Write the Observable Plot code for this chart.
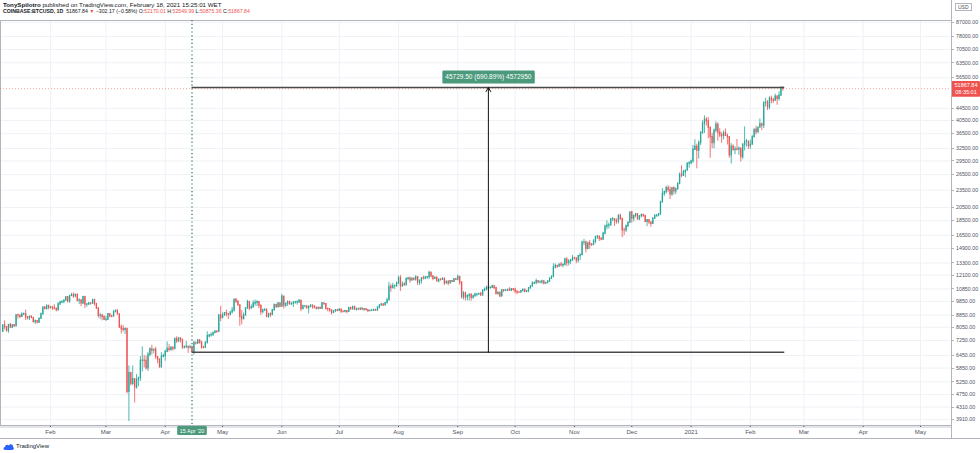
<!DOCTYPE html>
<html><head><meta charset="utf-8">
<script src="https://cdn.jsdelivr.net/npm/d3@7"></script>
<script src="https://cdn.jsdelivr.net/npm/@observablehq/plot@0.6"></script>
<style>
body{margin:0;background:#fff;width:980px;height:453px;overflow:hidden;position:relative;font-family:"Liberation Sans",Arial,sans-serif;}
#chart{position:absolute;left:0;top:0;}
#hdr{position:absolute;left:3px;top:1px;color:#131722;z-index:2;white-space:nowrap;}
#hdr .l1{font-size:6.2px;line-height:7px;}
#hdr .l2{font-size:5.2px;line-height:7px;}
#hdr .r{color:#ef5350;}
#usd{position:absolute;left:955px;top:3px;font-size:5px;line-height:6px;padding:0 2px;border:0.5px solid #b2b5be;background:#fff;color:#4c4f59;z-index:2;}
#ftr{position:absolute;left:3px;top:442px;font-size:6px;line-height:8px;color:#131722;display:flex;align-items:center;gap:2px;}
</style></head><body>
<div id="chart"></div>
<div id="hdr"></div>
<div id="usd">USD</div>
<div id="ftr"><svg width="11" height="7" viewBox="0 0 22 14"><path d="M4 14 C0 14 0 8 4 8 C4 3 10 2 12 5 C14 1 21 2 20 8 C23 9 22 14 18 14 Z" fill="#2962ff"/></svg><span>TradingView</span></div>
<script>
// ---------- DATA (daily candles, COINBASE:BTCUSD, [high, low, close]) ----------
const startDate = "2020-01-07";
const firstOpen = 7760;
const jan2020 = [[8215,7735,8150],[8455,7870,8050],[8050,7750,7820],[8200,7670,8190],[8290,8000,8020],[8190,7960,8180],[8200,8050,8110],[8890,8100,8820],[8920,8580,8810],[8850,8600,8720],[9000,8680,8900],[8990,8800,8910],[9200,8480,8700],[8740,8520,8630],[8780,8480,8730],[8800,8600,8660],[8680,8300,8390],[8520,8220,8430],[8450,8260,8340],[8620,8290,8600],[8990,8550,8900],[9400,8860,9390],[9420,9210,9290],[9570,9190,9510],[9530,9220,9350]];
const feb2020 = [[9460,9300,9380],[9470,9160,9330],[9600,9220,9290],[9350,9080,9180],[9750,9160,9620],[9850,9530,9760],[9880,9700,9810],[9950,9660,9900],[10170,9880,10170],[10190,9730,9850],[10300,9700,10270],[10480,10250,10350],[10520,10090,10240],[10390,10130,10370],[10390,9800,9900],[10050,9600,9930],[9960,9450,9700],[10250,9600,10180],[10240,9300,9600],[9670,9400,9610],[9770,9570,9690],[9700,9560,9670],[9990,9650,9960],[10000,9500,9650],[9660,9250,9310],[9380,8640,8790],[8980,8540,8810],[8890,8450,8710],[8800,8510,8530]];
const mar2020 = [[8750,8410,8530],[8950,8520,8910],[8930,8660,8760],[8850,8660,8750],[9150,8750,9070],[9180,9000,9160],[9200,8850,8900],[8900,8010,8030],[8190,7630,7930],[8160,7750,7890],[7980,7600,7950],[7960,4780,4860],[5950,3850,5620],[5660,5080,5170],[5950,5100,5360],[5370,4450,5030],[5560,4960,5330],[5440,5050,5410],[6400,5270,6190],[6900,5670,6200],[6450,5860,6190],[6420,5760,5830],[6600,5700,6480],[6850,6390,6770],[6990,6480,6700],[6790,6530,6740],[6880,6260,6370],[6380,6050,6250],[6270,5860,5880],[6600,5860,6400],[6520,6340,6420]];
const apr2020 = [[6720,6170,6640],[7170,6590,6800],[7020,6630,6740],[6910,6670,6860],[6880,6680,6780],[7380,6780,7340],[7470,7080,7200],[7420,7160,7370],[7380,7110,7290],[7300,6760,6870],[6950,6790,6890],[7200,6800,6910],[6920,6560,6860],[6990,6780,6880],[6940,6620,6640],[7200,6470,7120],[7150,7000,7100],[7300,7030,7260],[7270,7050,7130],[7210,6780,6860],[6940,6800,6850],[7160,6820,7140],[7770,7050,7500],[7600,7400,7550],[7700,7450,7560],[7720,7500,7700],[7800,7640,7790],[7790,7660,7760],[8900,7740,8800],[9470,8400,8650]];
const may2020 = [[9000,8620,8830],[9010,8760,8980],[9190,8720,8900],[8960,8550,8880],[9080,8780,9030],[9400,8930,9160],[10000,9060,9990],[10050,9700,9810],[9920,9500,9550],[9580,8110,8730],[9170,8200,8570],[8990,8540,8820],[9380,8800,9310],[9930,9260,9800],[9840,9150,9320],[9590,9250,9390],[9890,9340,9680],[9950,9470,9730],[9900,9460,9780],[9840,9300,9510],[9570,8820,9060],[9270,8930,9170],[9320,9100,9180],[9310,8710,8720],[8980,8630,8900],[9010,8700,8840],[9220,8820,9200],[9620,9120,9580],[9610,9330,9420],[9740,9340,9700],[9700,9380,9450]];
const jun2020 = [[10400,9420,10210],[10230,9260,9520],[9690,9380,9670],[9880,9460,9800],[9850,9580,9630],[9730,9530,9670],[9800,9380,9750],[9800,9630,9780],[9880,9570,9780],[9990,9690,9890],[9940,9080,9280],[9560,9230,9470],[9500,9360,9470],[9490,9260,9340],[9500,8920,9430],[9590,9370,9520],[9570,9260,9460],[9490,9280,9380],[9400,9200,9300],[9400,9200,9360],[9420,9280,9290],[9770,9280,9690],[9700,9590,9630],[9670,9200,9290],[9330,9070,9250],[9290,9040,9160],[9200,8850,9010],[9130,8950,9120],[9230,9020,9190],[9200,9080,9140]];
const jul2020 = [[9300,9090,9240],[9270,8950,9090],[9130,9050,9060],[9190,9050,9130],[9140,8930,9080],[9380,9060,9350],[9360,9210,9250],[9470,9230,9430],[9440,9170,9240],[9320,9120,9290],[9300,9200,9240],[9350,9170,9300],[9350,9200,9240],[9280,9110,9260],[9280,9150,9190],[9210,9010,9130],[9190,9090,9150],[9190,9120,9170],[9240,9110,9210],[9220,9130,9160],[9420,9150,9390],[9560,9270,9540],[9670,9480,9610],[9640,9460,9550],[9740,9530,9710],[10100,9660,9930],[11420,9920,11030],[11250,10580,10930],[11340,10870,11100],[11170,10820,11110],[11450,10990,11350]];
const aug2020 = [[12000,11230,11800],[12050,10650,11070],[11480,11000,11230],[11420,11070,11190],[11800,11100,11740],[11900,11570,11770],[11900,11340,11600],[11800,11530,11760],[11800,11550,11680],[12050,11520,11880],[11950,11150,11400],[11630,11150,11570],[11800,11270,11790],[12000,11640,11770],[11970,11670,11860],[11930,11700,11910],[12470,11690,12300],[12390,11830,11970],[12020,11570,11740],[11880,11670,11860],[11890,11480,11520],[11690,11380,11680],[11710,11530,11650],[11820,11600,11760],[11770,11140,11330],[11530,11260,11460],[11590,11130,11330],[11580,11290,11540],[11580,11400,11480],[11720,11460,11710],[11750,11580,11680]];
const sep2020 = [[12090,11570,11930],[11950,11160,11400],[11470,10030,10170],[10630,9960,10490],[10570,9880,10170],[10350,9880,10270],[10400,9880,10380],[10430,9860,10130],[10350,10020,10240],[10500,10210,10370],[10400,10210,10400],[10480,10340,10440],[10570,10220,10330],[10800,10270,10680],[10940,10640,10790],[11100,10700,10960],[11050,10750,10940],[11040,10820,10940],[11180,10900,11090],[11060,10820,10920],[10990,10370,10420],[10570,10360,10540],[10550,10140,10240],[10800,10200,10740],[10770,10550,10690],[10780,10650,10730],[10800,10630,10780],[10960,10680,10700],[10860,10640,10840],[10850,10670,10780]];
const oct2020 = [[10920,10440,10620],[10660,10370,10570],[10600,10500,10550],[10700,10530,10670],[10800,10610,10790],[10800,10530,10600],[10690,10560,10670],[10950,10540,10920],[11110,10830,11060],[11480,11060,11300],[11430,11280,11380],[11710,11210,11540],[11560,11300,11430],[11560,11300,11430],[11620,11260,11500],[11540,11200,11320],[11400,11280,11370],[11530,11340,11510],[11830,11420,11760],[12020,11690,11920],[13220,11900,12820],[13190,12690,12990],[13030,12740,12930],[13180,12880,13130],[13350,12890,13040],[13250,12790,13070],[13800,13060,13650],[13860,12920,13280],[13640,12990,13460],[13690,13130,13560],[14100,13450,13800]];
const nov2020 = [[13900,13620,13760],[13830,13220,13550],[14070,13290,14030],[14250,13540,14150],[15770,14100,15590],[15970,15220,15590],[15770,14370,14840],[15650,14720,15480],[15850,14800,15330],[15470,15100,15300],[15960,15290,15700],[16340,15450,16290],[16480,15960,16330],[16330,15720,16080],[16180,15800,15960],[16880,15880,16720],[17860,16560,17660],[18480,17220,17800],[18180,17340,17820],[18820,17760,18680],[18960,18360,18710],[18750,17690,18420],[18780,18000,18370],[19420,18020,19160],[19490,18570,18730],[18900,16200,17150],[17470,16450,17140],[17880,16880,17730],[18350,17530,18180],[19850,18180,19700]];
const dec2020 = [[19920,18150,18790],[19310,18330,19220],[19590,18930,19450],[19520,18590,18700],[19180,18510,19150],[19420,18920,19360],[19420,19020,19170],[19290,18210,18320],[18640,17650,18560],[18590,17930,18250],[18280,17570,18040],[18950,18020,18810],[19410,18720,19170],[19350,19000,19270],[19570,19060,19440],[21560,19290,21350],[23770,21230,22800],[23290,22350,23130],[24200,22770,23860],[24300,23080,23480],[24100,21820,22720],[23860,22360,23830],[24100,22600,23250],[23800,22700,23730],[24790,23430,24710],[26870,24500,26490],[28420,25870,26280],[27400,26110,27040],[27390,25860,27370],[28990,27320,28880],[29320,27870,28990]];
const jan2021 = [[29680,28600,29410],[33300,28950,32200],[34800,32000,33000],[33640,27730,31990],[34500,29900,33950],[36940,33300,36830],[40380,36300,39460],[41950,36570,40670],[41400,38720,40240],[41380,35100,38240],[38260,30100,35550],[36620,32500,33920],[37850,32400,37390],[40100,36700,39160],[39700,34400,36830],[37950,35400,36020],[36800,33850,35820],[37300,34800,36640],[37850,35900,35900],[36400,33400,35520],[35600,30100,30840],[33820,28800,33010],[33450,31900,32080],[32950,30950,32270],[34880,31910,32260],[32940,30830,32500],[32560,29240,30400],[33780,29820,33430],[38500,31900,34290],[34900,32880,34300],[34300,32300,33110]];
const feb2021 = [[34700,32300,33520],[35980,33420,35510],[37660,35360,37670],[38700,36160,36950],[38310,36600,38290],[40950,38220,39260],[39700,37350,38880],[46750,37990,46400],[48200,45000,46480],[47320,43730,44850],[48680,43990,47990],[48980,46130,47390],[48130,46200,47240],[49720,47000,48720],[49000,45600,47960],[50620,47020,49160],[52640,48940,52170.01],[52549.99,50875.36,51867.84]];

// y-axis tick labels (log price scale), x-axis month ticks
const yTicks = [3910,4310,4750,5250,5850,6450,7250,8050,8850,9850,10850,12100,13300,14900,16500,18500,20500,23500,26500,29500,32500,36500,40500,44500,56500,63500,70500,78000,87000];
const monthTicks = ["2020-02-01","2020-03-01","2020-04-01","2020-05-01","2020-06-01","2020-07-01","2020-08-01","2020-09-01","2020-10-01","2020-11-01","2020-12-01","2021-01-01","2021-02-01","2021-03-01","2021-04-01","2021-05-01"];

// price-range drawing
const rulerStartDate = "2020-04-15";
const rulerEndDate = "2021-02-19";
const rulerLow = 6619;
const rulerChange = 45729.50;
const rulerPct = "690.89%";
const rulerTicks = "4572950";
const markerLabel = "15 Apr '20";
const clockText = "08:35:01";

// ---------- BUILD ----------
const U = s => new Date(s + "T00:00:00Z");
const DAY = 864e5;
const months = [jan2020,feb2020,mar2020,apr2020,may2020,jun2020,jul2020,aug2020,sep2020,oct2020,nov2020,dec2020,jan2021,feb2021];
const candles = [];
let prev = firstOpen;
months.flat().forEach((d, i) => {
  const [high, low, close] = d;
  candles.push({date: new Date(U(startDate).getTime() + i * DAY), open: prev, high, low, close});
  prev = close;
});
const last = candles[candles.length - 1];
const prevClose = candles[candles.length - 2].close;
const rulerHigh = rulerLow + rulerChange;
const rulerMid = new Date((U(rulerStartDate).getTime() + U(rulerEndDate).getTime()) / 2);
const up = "#26a69a", dn = "#ef5350";
const col = d => d.close >= d.open ? up : dn;

const f2 = v => v.toFixed(2);
const chg = last.close - prevClose;
document.getElementById("hdr").innerHTML =
  `<div class="l1"><b>TonySpilotro</b> published on TradingView.com, February 18, 2021 15:25:01 WET</div>` +
  `<div class="l2"><b>COINBASE:BTCUSD, 1D</b>&nbsp; ${f2(last.close)} <span class="r">▼</span> −${f2(-chg)} (−${(-chg / prevClose * 100).toFixed(2)}%) O:<span class="r">${f2(last.open)}</span> H:<span class="r">${f2(last.high)}</span> L:<span class="r">${f2(last.low)}</span> C:<span class="r">${f2(last.close)}</span></div>`;

const feb1 = U("2020-02-01").getTime();
const xDomain = [new Date(feb1 - 26.15 * DAY), new Date(feb1 + 471.2 * DAY)];
const mTicks = monthTicks.map(U);
const monthFmt = d3.utcFormat("%b");
const rulerLabel = `${f2(rulerChange)} (${rulerPct}) ${rulerTicks}`;
const priceLabel = `${f2(last.close)}\n${clockText}`;

const chart = Plot.plot({
  width: 980, height: 439,
  marginTop: 20, marginBottom: 14, marginLeft: 0, marginRight: 29,
  style: {fontSize: "6px", fontFamily: "Liberation Sans, Arial, sans-serif", color: "#50535e", background: "white", overflow: "visible"},
  x: {type: "utc", domain: xDomain, ticks: mTicks, tickFormat: d => d.getUTCMonth() === 0 ? String(d.getUTCFullYear()) : monthFmt(d), tickSize: 2, tickPadding: 2, label: null},
  y: {type: "log", domain: [3734, 88385], axis: null},
  marks: [
    Plot.ruleY(yTicks, {stroke: "#eef1f6", strokeWidth: 1}),
    Plot.ruleX(mTicks, {stroke: "#eef1f6", strokeWidth: 1}),
    Plot.frame({stroke: "#b2b5be", strokeWidth: 1}),
    Plot.ruleY([last.close], {stroke: dn, strokeOpacity: 0.55, strokeDasharray: "1,2", strokeWidth: 1}),
    Plot.ruleX([U(rulerStartDate)], {stroke: "#2f7d5f", strokeDasharray: "1.2,2.6", strokeWidth: 1.3}),
    Plot.ruleX(candles, {x: "date", y1: "low", y2: "high", stroke: col, strokeWidth: 0.8}),
    Plot.ruleX(candles, {x: "date", y1: "open", y2: "close", stroke: col, strokeWidth: 1.3, strokeLinecap: "square"}),
    Plot.ruleY([rulerLow, rulerHigh], {x1: U(rulerStartDate), x2: U(rulerEndDate), stroke: "#4a4a4a", strokeWidth: 1.6}),
    Plot.arrow([0], {x1: rulerMid, x2: rulerMid, y1: rulerLow, y2: rulerHigh, stroke: "#111", strokeWidth: 1, headLength: 7}),
    // right price axis labels
    Plot.text(yTicks, {y: d => d, text: d => d.toFixed(2), frameAnchor: "right", dx: 4.5, textAnchor: "start", fontSize: 5.3, fill: "#50535e"}),
    Plot.text([rulerLabel], {x: rulerMid, y: rulerHigh, text: d => d, dy: -10.5, fill: "white", fontSize: 6.5}),
    Plot.text([markerLabel], {x: U(rulerStartDate), frameAnchor: "bottom", dy: 7, text: d => d, fill: "white", fontSize: 5.5}),
    Plot.text([priceLabel], {y: last.close, frameAnchor: "right", dx: 14.5, textAnchor: "middle", text: d => d, fill: "white", fontSize: 5.5, lineHeight: 1.25})
  ]
});
document.getElementById("chart").appendChild(chart);

const svg = d3.select(chart);
const yScale = chart.scale("y");
function boxBehind(startText, fill, padX, padY, fixedX) {
  const t = svg.selectAll("text").filter(function() { return this.textContent.startsWith(startText); }).node();
  if (!t) return;
  const bb = t.getBBox();
  const tr = t.getAttribute("transform");
  const r = d3.select(t.parentNode).insert("rect", () => t).attr("fill", fill).attr("rx", 1.2)
    .attr("y", bb.y - padY).attr("height", bb.height + 2 * padY);
  if (tr) r.attr("transform", tr);
  if (fixedX) {
    // convert absolute x-range into the text's local coordinates
    const ox = t.getCTM().e;
    r.attr("x", fixedX[0] - ox).attr("width", fixedX[1] - fixedX[0]);
  } else r.attr("x", bb.x - padX).attr("width", bb.width + 2 * padX);
}
boxBehind(rulerLabel, "#4b9a7c", 3, 2.5);
boxBehind(markerLabel, "#4b9a7c", 2.5, 1.5);
boxBehind(f2(last.close) + clockText, dn, 0, 1.5, [951, 980]);
// price-axis tick marks
yTicks.forEach(v => {
  const y = Math.round(yScale.apply(v)) + 0.5;
  svg.append("line").attr("x1", 951).attr("x2", 954).attr("y1", y).attr("y2", y).attr("stroke", "#b2b5be");
});
// axis strip decoration
svg.insert("rect", "g").attr("x", 0).attr("y", 425).attr("width", 951).attr("height", 3).attr("fill", "#e3e5ea");
svg.append("line").attr("x1", 0).attr("x2", 980).attr("y1", 438.5).attr("y2", 438.5).attr("stroke", "#b2b5be");
svg.append("line").attr("x1", 951.5).attr("x2", 951.5).attr("y1", 0).attr("y2", 439).attr("stroke", "#b2b5be");
</script>
</body></html>
